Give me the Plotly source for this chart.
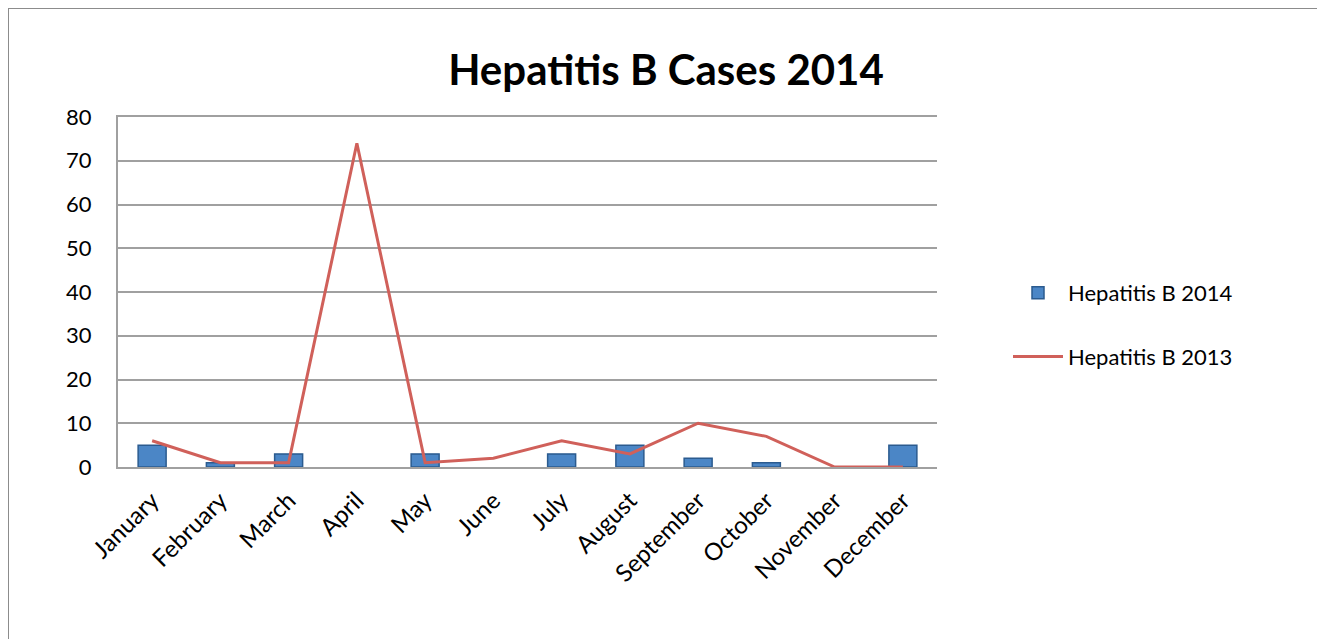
import plotly.graph_objects as go

months = ["January", "February", "March", "April", "May", "June", "July",
          "August", "September", "October", "November", "December"]
cases_2014 = [5, 1, 3, 0, 3, 0, 3, 5, 2, 1, 0, 5]
cases_2013 = [6, 1, 1, 74, 1, 2, 6, 3, 10, 7, 0, 0]
y_ticks = [0, 10, 20, 30, 40, 50, 60, 70, 80]

OFF = 8  # page offset
W, H = 1325 - OFF, 639 - OFF
L, T = 118 - OFF, 117 - OFF
pw, ph = 937 - 118, 467 - 117
R, B = W - L - pw, H - T - ph

def px_x(x):
    return (x - OFF - L) / pw

def px_y(y):
    return (T + ph - (y - OFF)) / ph

font = "Lato, 'Open Sans', sans-serif"

fig = go.Figure()
fig.add_trace(go.Bar(
    x=months, y=cases_2014, name="Hepatitis B 2014", legendgroup="a",
    marker=dict(color="#4B86C6",
                line=dict(color="#2B5B8F", width=[0 if v == 0 else 1.5 for v in cases_2014])),
    width=0.41,
))
fig.add_trace(go.Scatter(
    x=months, y=cases_2013, name="Hepatitis B 2013", mode="lines", legendgroup="b",
    line=dict(color="#D0605A", width=3),
))

fig.update_layout(
    width=W, height=H,
    margin=dict(l=L, r=R, t=T, b=B, autoexpand=False),
    paper_bgcolor="white", plot_bgcolor="white",
    font=dict(family=font, color="black", size=22),
    title=dict(text="<b>Hepatitis B Cases 2014</b>", x=px_x(666), xref="paper",
               xanchor="center", y=1 - (70 - OFF) / H, yanchor="middle",
               font=dict(size=42, family=font)),
    showlegend=True,
    legend=dict(x=px_x(1008), y=px_y(325), xanchor="left", yanchor="middle",
                font=dict(size=22), tracegroupgap=32, itemwidth=50,
                bgcolor="rgba(0,0,0,0)"),
    bargap=0.59,
    xaxis=dict(showgrid=False, showline=True, linecolor="#A0A0A0", linewidth=2,
               mirror=True, tickangle=-45, tickfont=dict(size=24), ticks="",
               ticklabelstandoff=8),
    yaxis=dict(range=[0, 80], tickvals=y_ticks, showgrid=True, gridcolor="#A0A0A0",
               gridwidth=1.5, showline=True, linecolor="#A0A0A0", linewidth=2,
               tickfont=dict(size=22), ticks="", zeroline=False, ticklabelstandoff=20),
    shapes=[dict(type="rect", xref="paper", yref="paper",
                 x0=px_x(8), x1=px_x(1320), y0=px_y(660), y1=px_y(8),
                 line=dict(color="#8C8C8C", width=2), layer="below")],
)

fig.write_html("out.html")
